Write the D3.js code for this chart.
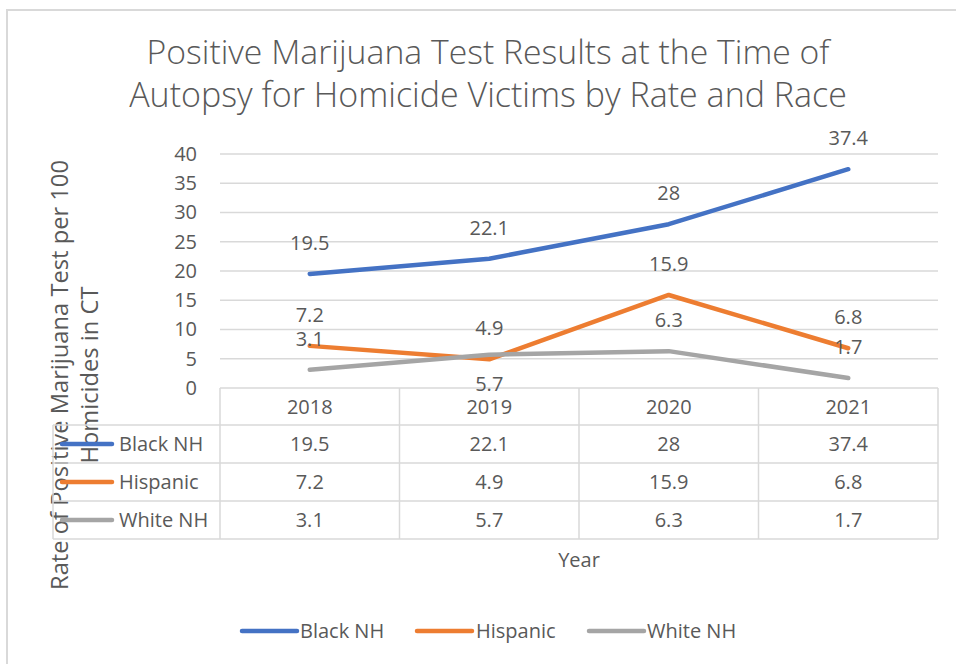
<!DOCTYPE html>
<html>
<head>
<meta charset="utf-8">
<script src="https://cdn.jsdelivr.net/npm/d3@7"></script>
<style>
  html, body { margin: 0; padding: 0; background: #fff; }
  svg { display: block; font-family: "Open Sans", sans-serif; }
</style>
</head>
<body>
<svg id="chart" width="956" height="664"></svg>
<script>
// Chart data
const years = ["2018", "2019", "2020", "2021"];
const seriesNames = ["Black NH", "Hispanic", "White NH"];
const blackNH = [19.5, 22.1, 28, 37.4];
const hispanic = [7.2, 4.9, 15.9, 6.8];
const whiteNH = [3.1, 5.7, 6.3, 1.7];
const yTicks = [0, 5, 10, 15, 20, 25, 30, 35, 40];
const seriesColors = ["#4472C4", "#ED7D31", "#A5A5A5"];
const titleLines = ["Positive Marijuana Test Results at the Time of",
                    "Autopsy for Homicide Victims by Rate and Race"];
const yTitleLines = ["Rate of Positive Marijuana Test per 100", "Homicides in CT"];

const series = seriesNames.map((name, i) => ({
  name, color: seriesColors[i], values: [blackNH, hispanic, whiteNH][i]
}));
// data labels drawn under their point instead of above
const labelsBelow = new Set(["White NH|2019"]);

const svg = d3.select("#chart");
const textColor = "#595959";
const gridColor = "#D9D9D9";

// outer chart frame
svg.append("rect")
  .attr("x", 7).attr("y", 10).attr("width", 980).attr("height", 700)
  .attr("fill", "none").attr("stroke", gridColor).attr("stroke-width", 2);

const plot = { left: 220, right: 938, top: 154, bottom: 388 };
const x = d3.scaleBand().domain(years).range([plot.left, plot.right]).padding(0);
const y = d3.scaleLinear().domain([0, 40]).range([plot.bottom, plot.top]);
const cx = yr => x(yr) + x.bandwidth() / 2;

// title, each line fitted to its width
const titleWidths = [683, 718];
const titleBaselines = [64, 107];
titleLines.forEach((line, i) => {
  const t = svg.append("text")
    .attr("x", 488).attr("y", titleBaselines[i])
    .attr("text-anchor", "middle")
    .attr("fill", textColor)
    .style("font-size", "30px")
    .style("font-weight", 300)
    .text(line);
  const w = t.node().getComputedTextLength();
  t.style("font-size", (30 * titleWidths[i] / w).toFixed(2) + "px");
});

// gridlines
svg.append("g")
  .selectAll("line")
  .data(yTicks.filter(v => v > 0))
  .join("line")
  .attr("x1", plot.left).attr("x2", plot.right)
  .attr("y1", d => y(d)).attr("y2", d => y(d))
  .attr("stroke", gridColor).attr("stroke-width", 1.3);

// y axis labels
const yAxis = d3.axisLeft(y).tickValues(yTicks).tickSize(0).tickPadding(23);
const yg = svg.append("g").attr("transform", `translate(${plot.left},0)`).call(yAxis);
yg.select(".domain").remove();
yg.selectAll("text")
  .attr("fill", textColor)
  .style("font-size", "20px")
  .style("font-family", "'Open Sans', sans-serif");

// y axis title: size chosen so the first line spans its full length
const yTitleLength = 430;
const yTitleBaselines = [68, 98];
const yTitles = yTitleLines.map((line, i) =>
  svg.append("text")
    .attr("transform", `translate(${yTitleBaselines[i]},375) rotate(-90)`)
    .attr("text-anchor", "middle")
    .attr("fill", textColor)
    .style("font-size", "20px")
    .text(line));
const yTitleSize = 20 * yTitleLength / yTitles[0].node().getComputedTextLength();
yTitles.forEach(t => t.style("font-size", yTitleSize.toFixed(2) + "px"));

// data table under the plot
const rowEdges = [388, 425, 463, 501, 539];
const tableLeft = 53;
const table = svg.append("g");
// horizontal rules
rowEdges.forEach((ry, i) => {
  table.append("line")
    .attr("x1", i === 0 ? plot.left : tableLeft).attr("x2", plot.right)
    .attr("y1", ry).attr("y2", ry)
    .attr("stroke", gridColor).attr("stroke-width", 1.5);
});
// vertical rules
const colEdges = years.map(yr => x(yr)).concat([plot.right]);
colEdges.forEach(cxEdge => {
  table.append("line")
    .attr("x1", cxEdge).attr("x2", cxEdge)
    .attr("y1", rowEdges[0]).attr("y2", rowEdges[4])
    .attr("stroke", gridColor).attr("stroke-width", 1.5);
});
table.append("line")
  .attr("x1", tableLeft).attr("x2", tableLeft)
  .attr("y1", rowEdges[1]).attr("y2", rowEdges[4])
  .attr("stroke", gridColor).attr("stroke-width", 1.5);

const rowMid = i => (rowEdges[i] + rowEdges[i + 1]) / 2;
// header row: category labels
table.selectAll("text.year")
  .data(years)
  .join("text")
  .attr("class", "year")
  .attr("x", d => cx(d)).attr("y", rowMid(0) + 7)
  .attr("text-anchor", "middle").attr("fill", textColor)
  .style("font-size", "20px")
  .text(d => d);

// series rows: legend key, name and values
series.forEach((s, i) => {
  const my = rowMid(i + 1);
  table.append("line")
    .attr("x1", 62).attr("x2", 112).attr("y1", my).attr("y2", my)
    .attr("stroke", s.color).attr("stroke-width", 4.5).attr("stroke-linecap", "round");
  table.append("text")
    .attr("x", 119).attr("y", my + 7)
    .attr("fill", textColor).style("font-size", "20px")
    .text(s.name);
  table.selectAll(null)
    .data(s.values)
    .join("text")
    .attr("x", (d, j) => cx(years[j])).attr("y", my + 7)
    .attr("text-anchor", "middle").attr("fill", textColor)
    .style("font-size", "20px")
    .text(d => d);
});

// x axis title
svg.append("text")
  .attr("x", 579).attr("y", 567)
  .attr("text-anchor", "middle").attr("fill", textColor)
  .style("font-size", "20px")
  .text("Year");

// series lines
const line = d3.line().x((d, j) => cx(years[j])).y(d => y(d));
svg.append("g")
  .selectAll("path")
  .data(series)
  .join("path")
  .attr("d", d => line(d.values))
  .attr("fill", "none")
  .attr("stroke", d => d.color)
  .attr("stroke-width", 4.5)
  .attr("stroke-linecap", "round")
  .attr("stroke-linejoin", "round");

// data labels
const labels = svg.append("g");
series.forEach(s => {
  s.values.forEach((v, j) => {
    const below = labelsBelow.has(s.name + "|" + years[j]);
    labels.append("text")
      .attr("x", cx(years[j]))
      .attr("y", y(v) + (below ? 36 : -24))
      .attr("text-anchor", "middle").attr("fill", textColor)
      .style("font-size", "20px")
      .text(v);
  });
});

// bottom legend
const legendItems = [
  { x1: 242, x2: 297, tx: 300 },
  { x1: 417, x2: 472, tx: 476 },
  { x1: 589, x2: 644, tx: 647 }
];
const legend = svg.append("g");
series.forEach((s, i) => {
  const li = legendItems[i];
  legend.append("line")
    .attr("x1", li.x1).attr("x2", li.x2).attr("y1", 631).attr("y2", 631)
    .attr("stroke", s.color).attr("stroke-width", 4.5).attr("stroke-linecap", "round");
  legend.append("text")
    .attr("x", li.tx).attr("y", 638)
    .attr("fill", textColor).style("font-size", "20px")
    .text(s.name);
});
</script>
</body>
</html>
